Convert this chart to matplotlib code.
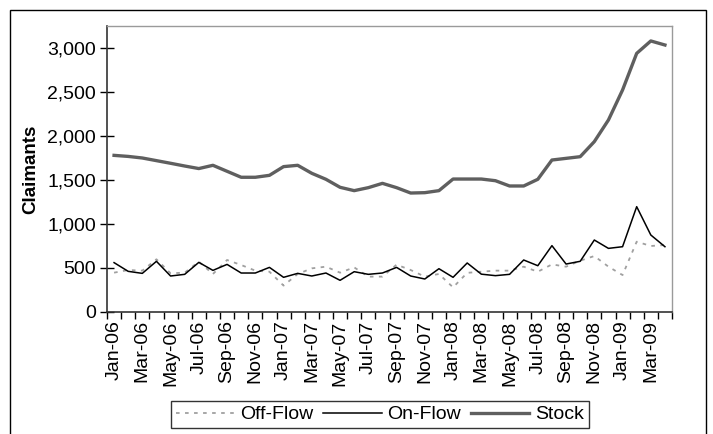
import numpy as np
import matplotlib
matplotlib.use("Agg")
import matplotlib.pyplot as plt
from matplotlib.patches import Rectangle
from matplotlib.ticker import FuncFormatter, MultipleLocator

plt.rcParams['font.family'] = ['Liberation Sans', 'DejaVu Sans']

months = ['Jan', 'Feb', 'Mar', 'Apr', 'May', 'Jun', 'Jul', 'Aug', 'Sep', 'Oct', 'Nov', 'Dec']
dates = [m + '-' + y for y in ['06', '07', '08', '09'] for m in months][:40]

stock = [1780, 1768, 1750, 1720, 1690, 1659, 1630, 1667, 1599, 1531,
         1531, 1553, 1652, 1667, 1576, 1508, 1417, 1379, 1413, 1462,
         1413, 1352, 1356, 1379, 1511, 1511, 1511, 1492, 1432, 1432,
         1508, 1727, 1746, 1765, 1936, 2182, 2523, 2939, 3080, 3034]

on_flow = [561, 462, 439, 576, 409, 428, 564, 473, 541, 443,
           443, 507, 394, 439, 409, 443, 360, 458, 428, 443,
           507, 409, 375, 492, 394, 557, 430, 413, 428, 591,
           526, 754, 545, 576, 818, 723, 742, 1197, 875, 742]

off_flow = [447, 477, 470, 599, 440, 447, 572, 432, 591, 534,
            470, 458, 300, 432, 496, 515, 447, 507, 402, 402,
            538, 477, 402, 432, 280, 445, 458, 470, 470, 515,
            458, 541, 515, 583, 636, 515, 420, 799, 750, 761]

W, H = 713, 434
fig = plt.figure(figsize=(W / 100, H / 100), dpi=100)
ax = fig.add_axes([107 / W, 1 - 312 / H, (672 - 107) / W, (312 - 26) / H])

x = np.arange(len(dates))
ax.plot(x, off_flow, color='#a0a0a0', lw=1.3, ls=(0, (2, 3)), label='Off-Flow')
ax.plot(x, on_flow, color='black', lw=1.1, label='On-Flow')
ax.plot(x, stock, color='#5f5f5f', lw=2.4, label='Stock')

ax.set_xlim(-0.5, len(dates) - 0.5)
ax.set_ylim(0, 3250)
ax.yaxis.set_major_locator(MultipleLocator(500))
ax.yaxis.set_major_formatter(FuncFormatter(lambda v, p: '{:,.0f}'.format(v)))
ax.tick_params(axis='y', direction='inout', length=10, width=1, labelsize=14, pad=3)

ax.set_xticks(x[::2])
ax.set_xticklabels(dates[::2], rotation=90, fontsize=14)
ax.set_xticks(np.arange(-0.5, len(dates)), minor=True)
ax.tick_params(axis='x', which='major', length=0, pad=6)
ax.tick_params(axis='x', which='minor', direction='out', length=5, width=1)

for s in ['left', 'bottom']:
    ax.spines[s].set_color('#333333')
    ax.spines[s].set_linewidth(1.2)
for s in ['top', 'right']:
    ax.spines[s].set_color('#9a9a9a')
    ax.spines[s].set_linewidth(1)

ax.set_ylabel('Claimants', fontsize=13.5, fontweight='bold', labelpad=6)

leg = fig.legend(loc='center', bbox_to_anchor=(380 / W, 1 - 414.5 / H), ncol=3,
                 fontsize=14, frameon=True, fancybox=False, handlelength=3.0,
                 columnspacing=0.5, handletextpad=0.3, borderpad=0.25)
leg.get_frame().set_edgecolor('black')
leg.get_frame().set_linewidth(1)

fig.patches.append(Rectangle((10 / W, -0.01), (706 - 10) / W, 1 - 10 / H + 0.01,
                             transform=fig.transFigure, fill=False,
                             edgecolor='black', lw=1))

fig.savefig('out.png', dpi=100)
